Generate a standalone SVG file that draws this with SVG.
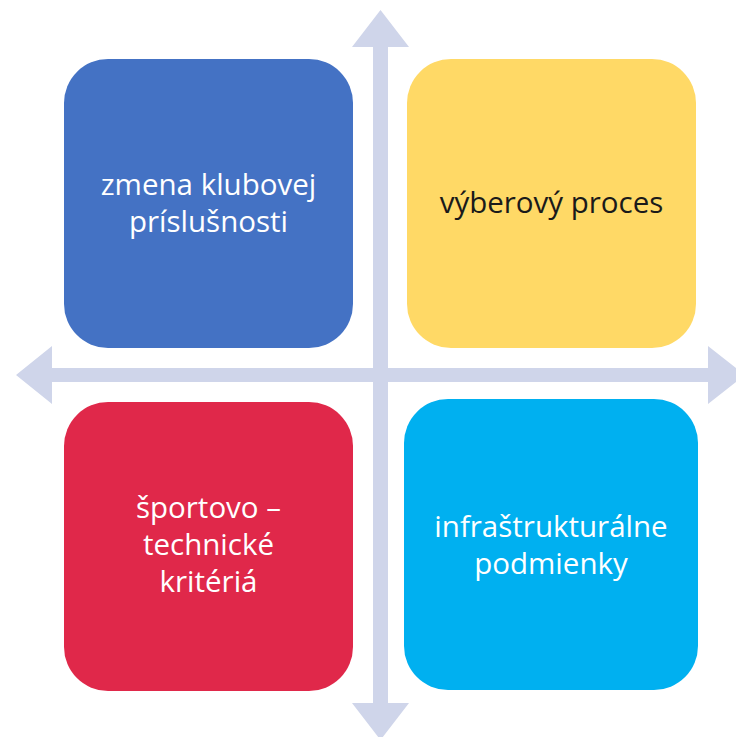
<svg xmlns="http://www.w3.org/2000/svg" width="736" height="737" viewBox="0 0 736 737">
<style>
.box{stroke:none}
.t{font-family:"Open Sans","Liberation Sans",sans-serif;font-size:29.5px;text-anchor:middle}
.w{fill:#FFFFFF}
.k{fill:#1A1A1A}
.ax{fill:#CFD5EA}
</style>
<rect x="0" y="0" width="736" height="737" fill="#FFFFFF"/>
<g id="connectors">
<path class="ax" d="M380.5,10 L409,47 L388,47 L388,703 L409,703 L380.5,740 L352,703 L373,703 L373,47 L352,47 Z"/>
<path class="ax" d="M16,375 L52,346 L52,368 L708,368 L708,346 L745,375 L708,404 L708,382 L52,382 L52,404 Z"/>
</g>
<g id="node-blue">
<rect class="box" x="64" y="59" width="289" height="289" rx="44" fill="#4472C4"/>
<text class="t w" x="208.5" y="195">zmena klubovej</text>
<text class="t w" x="208.5" y="232">príslušnosti</text>
</g>
<g id="node-yellow">
<rect class="box" x="407" y="59" width="289" height="289" rx="44" fill="#FFD966"/>
<text class="t k" x="551.5" y="213">výberový proces</text>
</g>
<g id="node-red">
<rect class="box" x="64" y="402" width="289" height="289" rx="44" fill="#E0284A"/>
<text class="t w" x="208.5" y="518">športovo –</text>
<text class="t w" x="208.5" y="555">technické</text>
<text class="t w" x="208.5" y="592">kritériá</text>
</g>
<g id="node-cyan">
<rect class="box" x="404" y="399" width="294" height="291" rx="44" fill="#00B0F0"/>
<text class="t w" x="551" y="537">infraštrukturálne</text>
<text class="t w" x="551" y="574">podmienky</text>
</g>
</svg>
